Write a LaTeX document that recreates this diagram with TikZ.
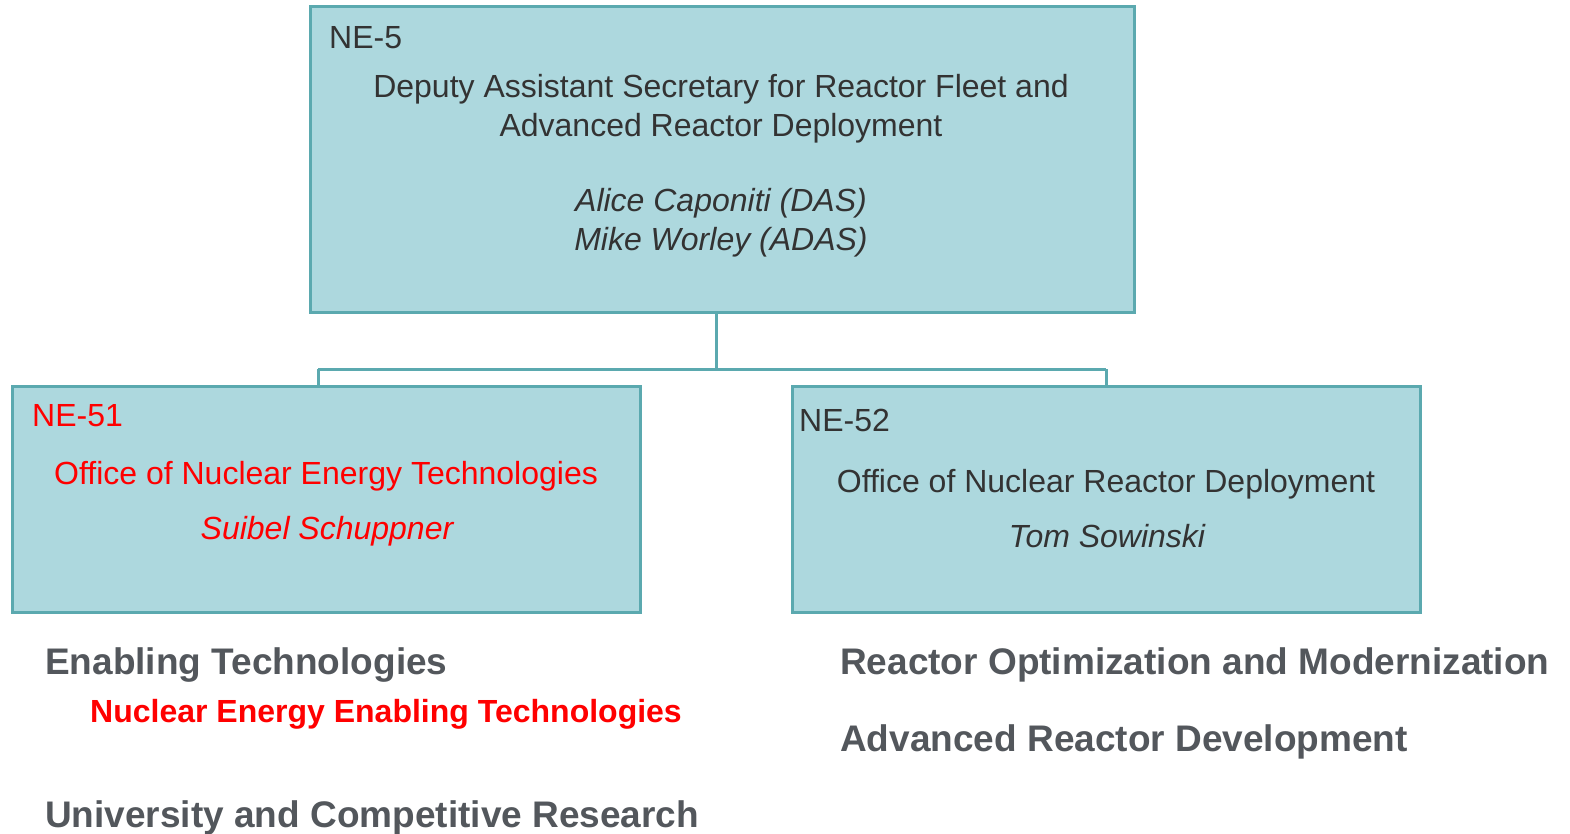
\documentclass[tikz,border=0pt]{standalone}
\usepackage{fontspec}
\setmainfont{Liberation Sans}
\definecolor{boxfill}{HTML}{ADD8DE}
\definecolor{boxline}{HTML}{5BA9AF}
\definecolor{darktext}{HTML}{333333}
\definecolor{graytext}{HTML}{53575C}
\definecolor{redtext}{HTML}{FF0000}
\tikzset{
  orgbox/.style={draw=boxline, fill=boxfill, line width=3pt, inner sep=0pt},
  conn/.style={draw=boxline, line width=3pt},
  boxtxt/.style={font=\fontsize{32}{38}\selectfont, text=darktext, inner sep=0pt, anchor=mid},
  itxt/.style={boxtxt, font=\fontsize{32}{38}\selectfont\itshape},
  boxlab/.style={boxtxt, anchor=mid west},
  bigtxt/.style={font=\fontsize{37}{44}\selectfont\bfseries, text=graytext, inner sep=0pt, anchor=mid west},
  redsub/.style={font=\fontsize{32}{38}\selectfont\bfseries, text=redtext, inner sep=0pt, anchor=mid west}
}
\begin{document}
\begin{tikzpicture}[x=1pt,y=-1pt]
\useasboundingbox (0,0) rectangle (1570,834);
% boxes
\node[orgbox, minimum width=824pt, minimum height=305pt] (top) at (722,159.5) {};
\node[orgbox, minimum width=628pt, minimum height=226pt] (left) at (326,499) {};
\node[orgbox, minimum width=628pt, minimum height=226pt] (right) at (1106,499) {};
% connectors
\coordinate (jm) at (716,369);
\coordinate (jl) at (318,369);
\coordinate (jr) at (1106,369);
\draw[conn] (jm |- top.south) -- (jm);
\draw[conn] (jl) -- (jr);
\draw[conn] (jl) -- (jl |- left.north);
\draw[conn] (jr) -- (jr |- right.north);
% top box text
\node[boxlab] (ne5) at (329,46) {NE-5};
\node[boxtxt] (t1) at (721,95) {Deputy Assistant Secretary for Reactor Fleet and};
\node[boxtxt] (t2) at (721,134) {Advanced Reactor Deployment};
\node[itxt] (t3) at (721,209) {Alice Caponiti (DAS)};
\node[itxt] (t4) at (721,248) {Mike Worley (ADAS)};
% left box text
\node[boxlab, text=redtext] (ne51) at (32,424) {NE-51};
\node[boxtxt, text=redtext] (l1) at (326,482) {Office of Nuclear Energy Technologies};
\node[itxt, text=redtext] (l2) at (327,537) {Suibel Schuppner};
% right box text
\node[boxlab] (ne52) at (799,429) {NE-52};
\node[boxtxt] (r1) at (1106,490) {Office of Nuclear Reactor Deployment};
\node[itxt] (r2) at (1107,545) {Tom Sowinski};
% lists
\node[bigtxt] (et) at (45,672) {Enabling Technologies};
\node[redsub] (neet) at (90,720) {Nuclear Energy Enabling Technologies};
\node[bigtxt] (ucr) at (45,825) {University and Competitive Research};
\node[bigtxt] (rom) at (840,672) {Reactor Optimization and Modernization};
\node[bigtxt] (ard) at (840,749) {Advanced Reactor Development};
\end{tikzpicture}
\end{document}
